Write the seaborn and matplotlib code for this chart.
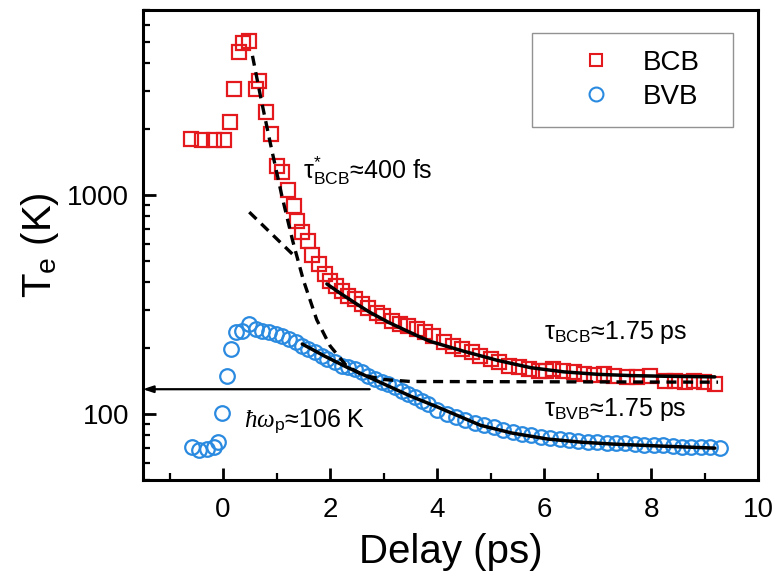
import numpy as np
import matplotlib
matplotlib.use("Agg")
import matplotlib.pyplot as plt
from matplotlib.ticker import LogLocator, MultipleLocator, NullFormatter, FuncFormatter
from matplotlib.lines import Line2D
import seaborn as sns

bcb_t = [-0.60, -0.39, -0.17, 0.02, 0.13, 0.21, 0.30, 0.38, 0.49, 0.62, 0.68, 0.81, 0.90,
         1.00, 1.11, 1.22, 1.32, 1.39, 1.48, 1.58, 1.67, 1.80, 1.90, 1.99, 2.12, 2.22, 2.33,
         2.46, 2.59, 2.71, 2.88, 2.99, 3.16, 3.31, 3.46, 3.63, 3.78, 3.93, 4.12, 4.30, 4.47,
         4.66, 4.81, 5.00, 5.15, 5.34, 5.53, 5.71, 5.90, 6.04, 6.17, 6.35, 6.56, 6.75, 6.94,
         7.12, 7.31, 7.54, 7.73, 7.97, 8.25, 8.44, 8.63, 8.80, 8.98, 9.19]
bcb_te = [1800, 1790, 1790, 1790, 2150, 3050, 4500, 4950, 5050, 3050, 3320, 2400, 1900,
          1360, 1280, 1060, 890, 760, 680, 615, 530, 485, 436, 405, 384, 364, 346,
          335, 318, 305, 289, 280, 266, 258, 252, 244, 237, 227, 213, 205, 198,
          192, 184, 178, 173, 166, 164, 160, 157, 158, 160, 157, 155, 152, 151,
          152, 149, 148, 148, 149, 142, 142, 140, 142, 140, 137]

bvb_t = [-0.58, -0.45, -0.30, -0.17, -0.09, -0.02, 0.08, 0.15, 0.24, 0.36, 0.49, 0.62, 0.73,
         0.86, 0.99, 1.11, 1.24, 1.37, 1.47, 1.58, 1.71, 1.84, 1.95, 2.09, 2.22, 2.33, 2.46,
         2.59, 2.71, 2.84, 2.97, 3.08, 3.21, 3.35, 3.46, 3.59, 3.72, 3.83, 4.00, 4.18, 4.35,
         4.53, 4.70, 4.88, 5.06, 5.23, 5.41, 5.58, 5.76, 5.94, 6.11, 6.29, 6.46, 6.64, 6.82,
         6.99, 7.17, 7.34, 7.52, 7.70, 7.87, 8.05, 8.22, 8.40, 8.58, 8.75, 8.93, 9.10, 9.29]
bvb_te = [71, 68.5, 69, 71, 74.5, 101, 149, 198, 237, 240, 258, 244, 239,
          236, 232, 227, 220, 213, 205, 198, 192, 184, 178, 173, 166, 164, 160,
          155, 149, 145, 140, 137, 133, 127, 123, 120, 115, 111, 105, 100, 97,
          94, 91.5, 89, 87, 85, 83, 81.5, 80, 79, 78, 77, 76.5, 75.5, 75,
          74.5, 74, 73.5, 73.5, 73, 72.5, 72, 72, 71.5, 71, 71, 70.5, 70.5, 70]

# fit curves
fit_bcb_t = [1.94, 2.2, 2.5, 2.74, 3.1, 3.63, 3.87, 4.49, 5.13, 5.75, 6.37, 7.01, 7.63, 8.25, 9.19]
fit_bcb_te = [393, 355, 318, 292, 262, 228, 215, 194, 176, 163, 156, 152, 150, 149, 148]
fit_bvb_t = [1.48, 1.9, 2.31, 2.93, 3.5, 4.0, 4.81, 5.4, 6.07, 6.7, 7.31, 8.2, 9.19]
fit_bvb_te = [209, 184, 164, 140, 121, 108, 89, 82, 77, 74.5, 73, 71.5, 70]
fast_t = [0.55, 0.7, 0.9, 1.1, 1.3, 1.5, 1.75, 2.0, 2.3, 2.6, 3.0, 3.5, 9.25]
fast_te = [4320, 2820, 1650, 990, 620, 410, 270, 205, 167, 151, 144, 141, 140]
mid_t = [0.49, 1.39]
mid_te = [836, 511]
hw_p = 130

red = "#e3191e"
blue = "#2a8ae0"

sns.set_style("ticks")
plt.rcParams["font.family"] = ["Liberation Sans", "DejaVu Sans"]
plt.rcParams["mathtext.fontset"] = "custom"
plt.rcParams["mathtext.rm"] = "Liberation Sans"
plt.rcParams["mathtext.it"] = "Liberation Serif:italic"
plt.rcParams["text.color"] = "black"
plt.rcParams["axes.labelcolor"] = "black"
plt.rcParams["axes.edgecolor"] = "black"
plt.rcParams["xtick.color"] = "black"
plt.rcParams["ytick.color"] = "black"

fig = plt.figure(figsize=(7.76, 5.82), dpi=100)
ax = fig.add_axes([0.184, 0.175, 0.793, 0.808])

sns.lineplot(x=bcb_t, y=bcb_te, ax=ax, marker="s", linestyle="", ms=9.5, mfc="none",
             mec=red, mew=1.6, color=red, sort=False, zorder=2)
sns.lineplot(x=bvb_t, y=bvb_te, ax=ax, marker="o", linestyle="", ms=10.5, mfc="none",
             mec=blue, mew=1.6, color=blue, sort=False, zorder=2)

sns.lineplot(x=fit_bcb_t, y=fit_bcb_te, ax=ax, color="black", lw=2.5, zorder=3)
sns.lineplot(x=fit_bvb_t, y=fit_bvb_te, ax=ax, color="black", lw=2.5, zorder=3)
sns.lineplot(x=fast_t, y=fast_te, ax=ax, color="black", lw=2.4, ls=(0, (3, 2)), zorder=3)
sns.lineplot(x=mid_t, y=mid_te, ax=ax, color="black", lw=2.4, ls=(0, (3, 2)), zorder=3)

ax.annotate("", xy=(-1.5, hw_p), xytext=(2.74, hw_p),
            arrowprops=dict(arrowstyle="-|>,head_length=0.6,head_width=0.2", color="black", lw=1.6,
                            shrinkA=0, shrinkB=0))

ax.set_yscale("log")
ax.set_xlim(-1.5, 10)
ax.set_ylim(50, 7000)
ax.xaxis.set_major_locator(MultipleLocator(2))
ax.xaxis.set_minor_locator(MultipleLocator(1))
ax.yaxis.set_minor_locator(LogLocator(base=10, subs=np.arange(2, 10)))
ax.yaxis.set_minor_formatter(NullFormatter())
ax.yaxis.set_major_formatter(FuncFormatter(lambda v, p: f"{v:g}"))

ax.tick_params(which="both", direction="in", top=False, right=False, labelsize=20)
ax.tick_params(which="major", length=9, width=2)
ax.tick_params(which="minor", length=5, width=1.6)
ax.tick_params(axis="x", pad=12)
ax.tick_params(axis="y", pad=10)
for s in ax.spines.values():
    s.set_linewidth(2.2)

ax.set_xlabel("Delay (ps)", fontsize=29, labelpad=7)
ax.set_ylabel(r"T$_{\mathrm{e}}$ (K)", fontsize=29, labelpad=4)

ax.text(1.49, 1183, r"τ${}^{*}_{\mathrm{BCB}}$≈400 fs", fontsize=18)
ax.text(6.0, 220, r"τ$_{\mathrm{BCB}}$≈1.75 ps", fontsize=18)
ax.text(6.0, 98, r"τ$_{\mathrm{BVB}}$≈1.75 ps", fontsize=18)
ax.text(0.39, 87, r"$\hbar\omega_{\mathrm{p}}$≈106 K", fontsize=18)

handles = [Line2D([], [], marker="s", ls="", ms=9, mfc="none", mec=red, mew=1.5),
           Line2D([], [], marker="o", ls="", ms=10, mfc="none", mec=blue, mew=1.5)]
ax.legend(handles, ["BCB", "BVB"], loc="upper left", bbox_to_anchor=(0.6325, 0.5, 0.3268, 0.451),
          mode="expand", borderaxespad=0, fontsize=20, frameon=True, fancybox=False,
          edgecolor="#777777", borderpad=0.6, handlelength=3.4, handletextpad=0.0,
          labelspacing=0.3)

fig.savefig("out.png", dpi=100)
